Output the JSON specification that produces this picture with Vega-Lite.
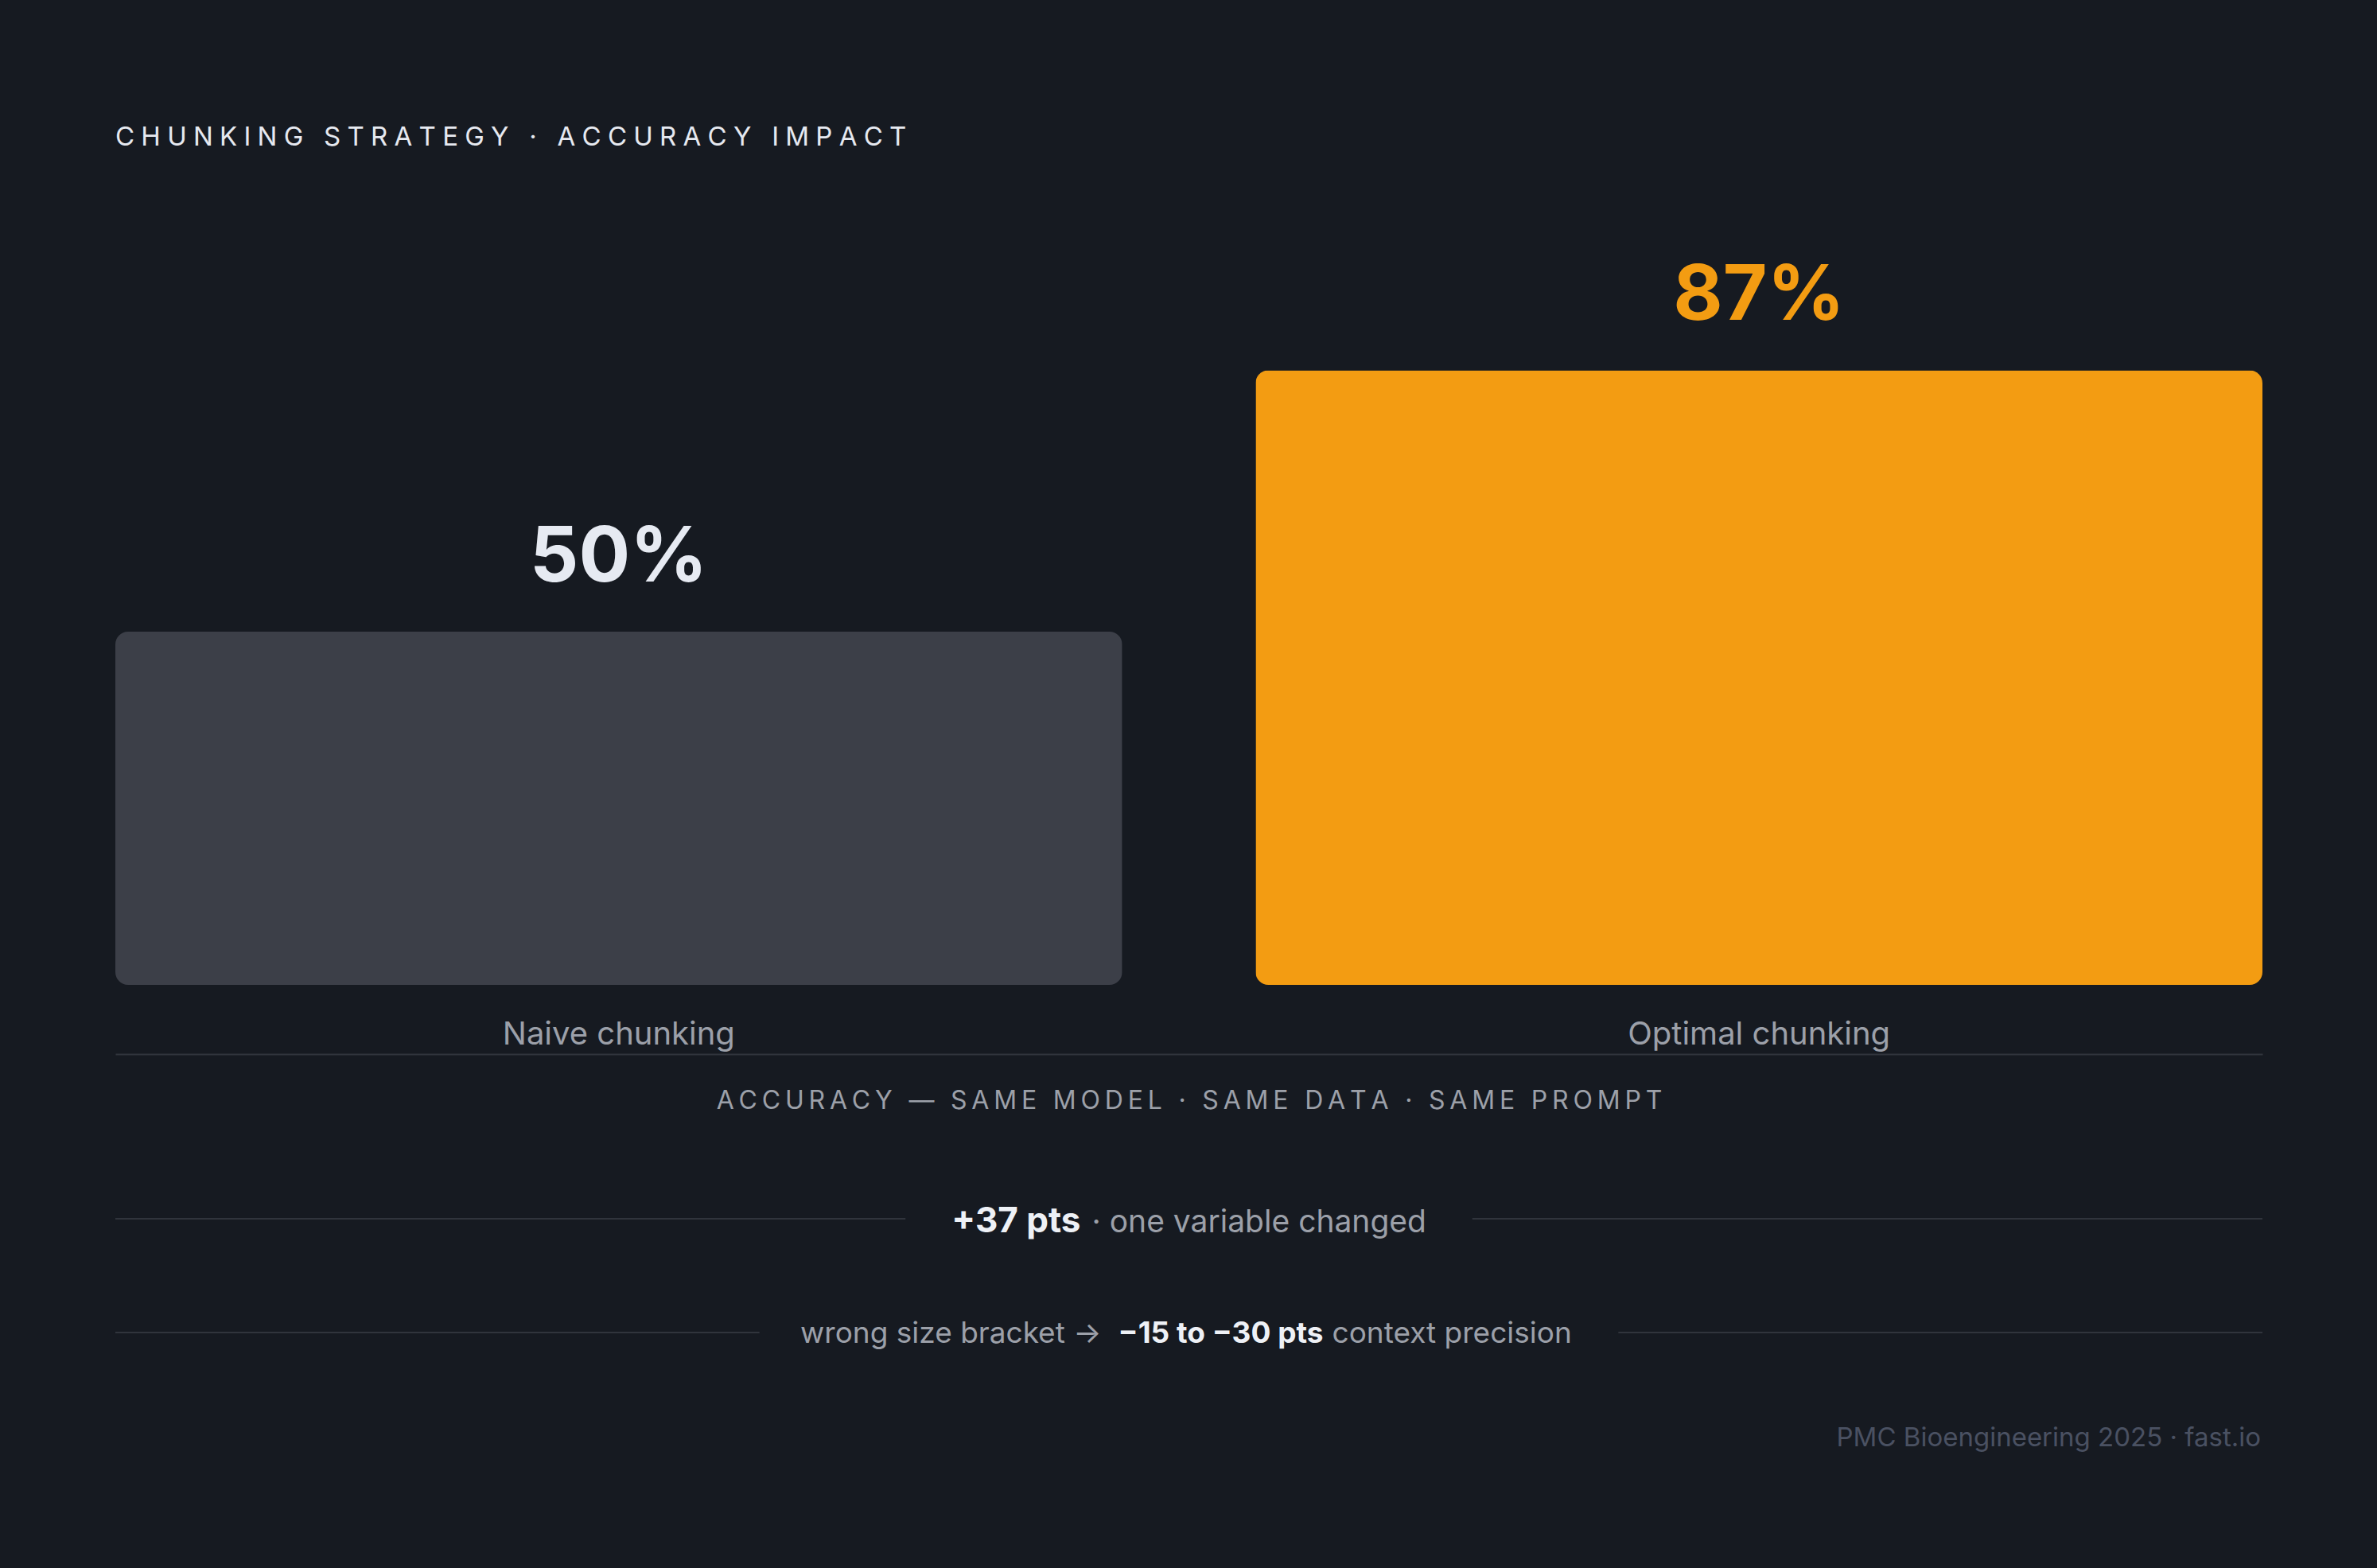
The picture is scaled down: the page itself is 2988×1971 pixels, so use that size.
{
  "$schema": "https://vega.github.io/schema/vega-lite/v6.json",
  "background": "#161a21",
  "autosize": {"type": "none"},
  "padding": {"left": 145, "top": 350, "right": 144, "bottom": 733},
  "width": 2699,
  "height": 888,
  "config": {"view": {"stroke": null}, "font": "Inter"},
  "title": {
    "text": "C\u2005H\u2005U\u2005N\u2005K\u2005I\u2005N\u2005G\u2005 \u2005S\u2005T\u2005R\u2005A\u2005T\u2005E\u2005G\u2005Y\u2005 \u2005·\u2005 \u2005A\u2005C\u2005C\u2005U\u2005R\u2005A\u2005C\u2005Y\u2005 \u2005I\u2005M\u2005P\u2005A\u2005C\u2005T",
    "anchor": "start",
    "frame": "group",
    "font": "Inter",
    "fontSize": 33,
    "fontWeight": 400,
    "color": "#e6e9f0",
    "baseline": "alphabetic",
    "offset": 109
  },
  "datasets": {
    "accuracy": [
      {"strategy": "Naive chunking", "accuracy": 0.50},
      {"strategy": "Optimal chunking", "accuracy": 0.87}
    ],
    "notes": [
      {"row": "gain", "before": "", "lead": "+37 pts", "rest": "· one variable changed"},
      {"row": "bracket", "before": "wrong size bracket →", "lead": "−15 to −30 pts", "rest": "context precision"},
      {"row": "source", "before": "", "lead": "", "rest": "PMC Bioengineering 2025 · fast.io"}
    ]
  },
  "layer": [
    {
      "data": {"name": "accuracy"},
      "encoding": {
        "x": {
          "field": "strategy",
          "type": "nominal",
          "sort": null,
          "scale": {"paddingInner": 0.117, "paddingOuter": 0},
          "axis": {
            "orient": "bottom",
            "offset": 87,
            "domain": true,
            "domainColor": "#30343c",
            "domainWidth": 2,
            "ticks": false,
            "grid": false,
            "labelAngle": 0,
            "labelLimit": 2000,
            "labelPadding": -13,
            "labelBaseline": "alphabetic",
            "labelFont": "Inter",
            "labelFontSize": 40,
            "labelFontWeight": 400,
            "labelColor": "#9ca0a9",
            "title": "A\u2009C\u2009C\u2009U\u2009R\u2009A\u2009C\u2009Y\u2009 \u2009—\u2009 \u2009S\u2009A\u2009M\u2009E\u2009 \u2009M\u2009O\u2009D\u2009E\u2009L\u2009 \u2009·\u2009 \u2009S\u2009A\u2009M\u2009E\u2009 \u2009D\u2009A\u2009T\u2009A\u2009 \u2009·\u2009 \u2009S\u2009A\u2009M\u2009E\u2009 \u2009P\u2009R\u2009O\u2009M\u2009P\u2009T",
            "titleFont": "Inter",
            "titleFontSize": 32,
            "titleFontWeight": 400,
            "titleColor": "#9ca0a9",
            "titlePadding": 68,
            "titleLimit": 3000,
            "titleBaseline": "alphabetic",
            "titleAnchor": "middle"
          }
        },
        "y": {
          "field": "accuracy",
          "type": "quantitative",
          "scale": {"domain": [0, 1], "nice": false},
          "axis": null
        }
      },
      "layer": [
        {
          "mark": {"type": "bar", "cornerRadius": 16},
          "encoding": {
            "color": {
              "field": "strategy",
              "type": "nominal",
              "scale": {"domain": ["Naive chunking", "Optimal chunking"], "range": ["#3c3f48", "#f39c12"]},
              "legend": null
            }
          }
        },
        {
          "mark": {"type": "text", "align": "center", "baseline": "alphabetic", "dy": -63, "font": "Inter", "fontSize": 96, "fontWeight": 700},
          "encoding": {
            "text": {"field": "accuracy", "type": "quantitative", "format": ".0%"},
            "color": {"condition": {"test": "datum.strategy === 'Optimal chunking'", "value": "#f39c12"}, "value": "#e6eaf2"}
          }
        }
      ]
    },
    {
      "data": {"name": "notes"},
      "encoding": {
        "y": {
          "field": "row",
          "type": "nominal",
          "scale": {"type": "point", "domain": ["gain", "bracket", "source"], "range": [1182, 1468], "padding": 0},
          "axis": null
        }
      },
      "layer": [
        {
          "transform": [{"filter": "datum.row === 'gain'"}],
          "mark": {"type": "rule", "color": "#30343c", "strokeWidth": 2},
          "encoding": {
            "x": {"datum": 0, "type": "quantitative", "scale": {"domain": [0, 100], "nice": false, "zero": false}, "axis": null},
            "x2": {"datum": 36.8}
          }
        },
        {
          "transform": [{"filter": "datum.row === 'gain'"}],
          "mark": {"type": "rule", "color": "#30343c", "strokeWidth": 2},
          "encoding": {
            "x": {"datum": 63.2, "type": "quantitative"},
            "x2": {"datum": 100}
          }
        },
        {
          "transform": [{"filter": "datum.row === 'bracket'"}],
          "mark": {"type": "rule", "color": "#30343c", "strokeWidth": 2},
          "encoding": {
            "x": {"datum": 0, "type": "quantitative"},
            "x2": {"datum": 30}
          }
        },
        {
          "transform": [{"filter": "datum.row === 'bracket'"}],
          "mark": {"type": "rule", "color": "#30343c", "strokeWidth": 2},
          "encoding": {
            "x": {"datum": 70, "type": "quantitative"},
            "x2": {"datum": 100}
          }
        },
        {
          "transform": [{"filter": "datum.row === 'gain'"}],
          "mark": {"type": "text", "align": "right", "baseline": "alphabetic", "dx": -136, "dy": 17, "font": "Inter", "fontSize": 44, "fontWeight": 700, "color": "#eef1f6"},
          "encoding": {
            "x": {"datum": 50, "type": "quantitative"},
            "text": {"field": "lead"}
          }
        },
        {
          "transform": [{"filter": "datum.row === 'gain'"}],
          "mark": {"type": "text", "align": "left", "baseline": "alphabetic", "dx": -122, "dy": 17, "font": "Inter", "fontSize": 39, "fontWeight": 400, "color": "#9ca0a9"},
          "encoding": {
            "x": {"datum": 50, "type": "quantitative"},
            "text": {"field": "rest"}
          }
        },
        {
          "transform": [{"filter": "datum.row === 'bracket'"}],
          "mark": {"type": "text", "align": "right", "baseline": "alphabetic", "dx": -110, "dy": 13, "font": "Inter", "fontSize": 37, "fontWeight": 400, "color": "#9ca0a9"},
          "encoding": {
            "x": {"datum": 50, "type": "quantitative"},
            "text": {"field": "before"}
          }
        },
        {
          "transform": [{"filter": "datum.row === 'bracket'"}],
          "mark": {"type": "text", "align": "center", "baseline": "alphabetic", "dx": 40, "dy": 13, "font": "Inter", "fontSize": 37, "fontWeight": 700, "color": "#eef1f6"},
          "encoding": {
            "x": {"datum": 50, "type": "quantitative"},
            "text": {"field": "lead"}
          }
        },
        {
          "transform": [{"filter": "datum.row === 'bracket'"}],
          "mark": {"type": "text", "align": "left", "baseline": "alphabetic", "dx": 180, "dy": 13, "font": "Inter", "fontSize": 37, "fontWeight": 400, "color": "#9ca0a9"},
          "encoding": {
            "x": {"datum": 50, "type": "quantitative"},
            "text": {"field": "rest"}
          }
        },
        {
          "transform": [{"filter": "datum.row === 'source'"}],
          "mark": {"type": "text", "align": "right", "baseline": "alphabetic", "dx": -2, "font": "Inter", "fontSize": 33, "fontWeight": 400, "color": "#4a5162"},
          "encoding": {
            "x": {"datum": 100, "type": "quantitative"},
            "text": {"field": "rest"}
          }
        }
      ]
    }
  ],
  "resolve": {"scale": {"x": "independent", "y": "independent"}}
}
